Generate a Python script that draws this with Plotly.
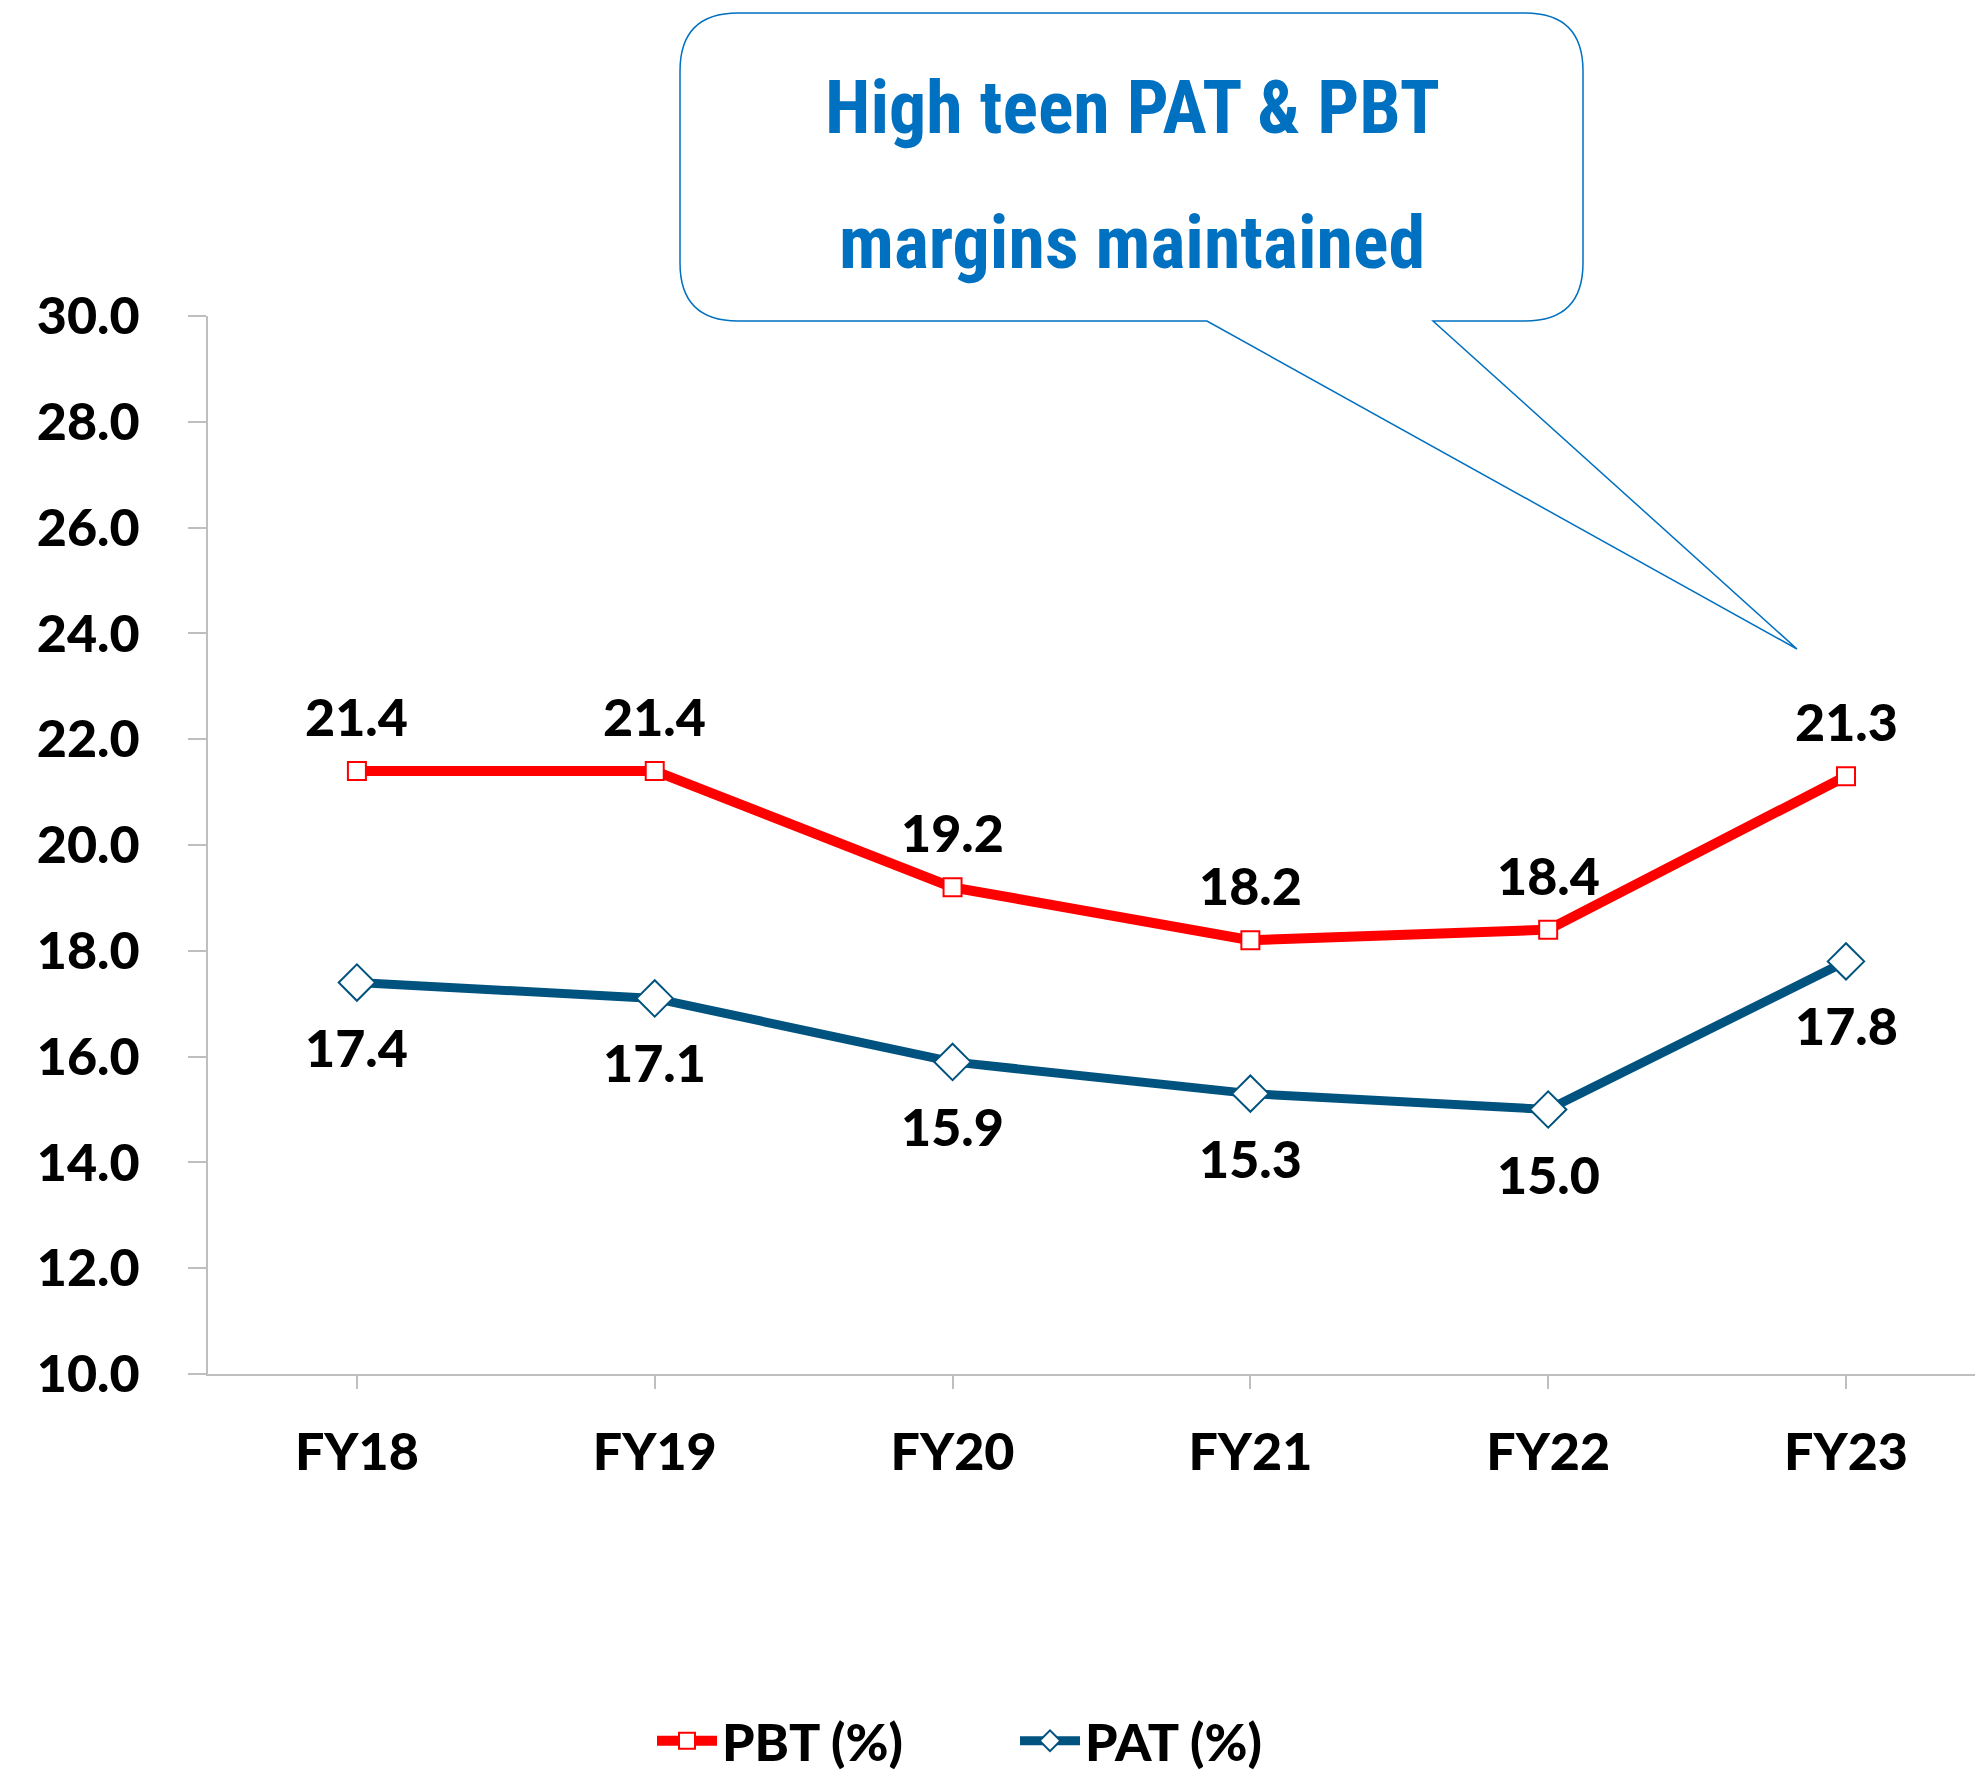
import plotly.graph_objects as go

years = ["FY18", "FY19", "FY20", "FY21", "FY22", "FY23"]
pbt = [21.4, 21.4, 19.2, 18.2, 18.4, 21.3]
pat = [17.4, 17.1, 15.9, 15.3, 15.0, 17.8]
y_ticks = [10, 12, 14, 16, 18, 20, 22, 24, 26, 28, 30]
callout_lines = ["High teen PAT & PBT", "margins maintained"]

# page body adds an 8px margin, so everything is laid out 8px up/left
OFF = 8
W, H = 1983 - OFF, 1772 - OFF
L, T, B = 208 - OFF, 316 - OFF, 1374 - OFF
PW, PH = W - L, B - T

RED = "#FF0000"
NAVY = "#00527F"
BLUE = "#0070C0"
AXIS = "#BFBFBF"
FONT = "Lato, 'Open Sans', sans-serif"


def px(x, y):
    # screen pixel position -> paper coordinates
    return (x - OFF - L) / PW, (B - (y - OFF)) / PH


def callout_path(x0, y0, x1, y1, r, p0, p1, tip):
    pts = []
    def P(cmd, x, y):
        a, b = px(x, y)
        pts.append(f"{cmd}{a:.5f},{b:.5f}")
    def Q(cx, cy, x, y):
        a, b = px(cx, cy)
        c, d = px(x, y)
        pts.append(f"Q{a:.5f},{b:.5f} {c:.5f},{d:.5f}")
    P("M", x0 + r, y0)
    P("L", x1 - r, y0)
    Q(x1, y0, x1, y0 + r)
    P("L", x1, y1 - r)
    Q(x1, y1, x1 - r, y1)
    P("L", p1, y1)
    P("L", tip[0], tip[1])
    P("L", p0, y1)
    P("L", x0 + r, y1)
    Q(x0, y1, x0, y1 - r)
    P("L", x0, y0 + r)
    Q(x0, y0, x0 + r, y0)
    return " ".join(pts) + " Z"


fig = go.Figure()
fig.add_trace(go.Scatter(
    x=years, y=pbt, name="PBT (%)", mode="lines+markers",
    line=dict(color=RED, width=10),
    marker=dict(symbol="square", size=18, color="white", line=dict(color=RED, width=2)),
))
fig.add_trace(go.Scatter(
    x=years, y=pat, name="PAT (%)", mode="lines+markers",
    line=dict(color=NAVY, width=9),
    marker=dict(symbol="diamond", size=28, color="white", line=dict(color=NAVY, width=2)),
))

# data labels
for yr, v in zip(years, pbt):
    fig.add_annotation(x=yr, y=v, text=f"{v:.1f}", showarrow=False, yshift=55,
                       font=dict(size=52, color="black", family=FONT, weight=900))
for yr, v in zip(years, pat):
    fig.add_annotation(x=yr, y=v, text=f"{v:.1f}", showarrow=False, yshift=-64,
                       font=dict(size=52, color="black", family=FONT, weight=900))

# callout box
fig.add_shape(type="path", xref="paper", yref="paper",
              path=callout_path(680, 13, 1583, 321, 58, 1207, 1433, (1797, 649)),
              line=dict(color=BLUE, width=1.5), fillcolor="rgba(255,255,255,0)")
for txt, yy in zip(callout_lines, [107, 243]):
    cx, cy = px(1132, yy)
    fig.add_annotation(xref="paper", yref="paper", x=cx, y=cy, text=txt, showarrow=False,
                       xanchor="center", yanchor="middle",
                       font=dict(size=74, color=BLUE, weight="bold",
                                 family="'Liberation Sans Narrow', 'Roboto Condensed', Roboto, sans-serif"))

lx, ly = px(652, 1741)
fig.update_layout(
    width=W, height=H,
    margin=dict(l=L, r=0, t=T, b=H - B, pad=0, autoexpand=False),
    plot_bgcolor="white", paper_bgcolor="white",
    font=dict(family=FONT, color="black", size=52, weight=900),
    showlegend=True,
    legend=dict(orientation="h", x=lx, y=ly, xanchor="left", yanchor="middle",
                itemwidth=60, entrywidth=288, font=dict(size=52, weight=900),
                tracegroupgap=0),
)
fig.update_xaxes(
    range=[-0.5, 5.46], showline=True, linecolor=AXIS, linewidth=2,
    ticks="outside", ticklen=13, tickcolor=AXIS, tickwidth=2,
    showgrid=False, zeroline=False, ticklabelstandoff=19,
    tickfont=dict(size=52, weight=900),
)
fig.update_yaxes(
    range=[10, 30], tickvals=y_ticks, ticktext=[f"{v:.1f}" for v in y_ticks],
    showline=True, linecolor=AXIS, linewidth=2,
    ticks="outside", ticklen=18, tickcolor=AXIS, tickwidth=2,
    showgrid=False, zeroline=False, ticklabelstandoff=38,
    tickfont=dict(size=52, weight=900),
)

fig.write_html("out.html")
